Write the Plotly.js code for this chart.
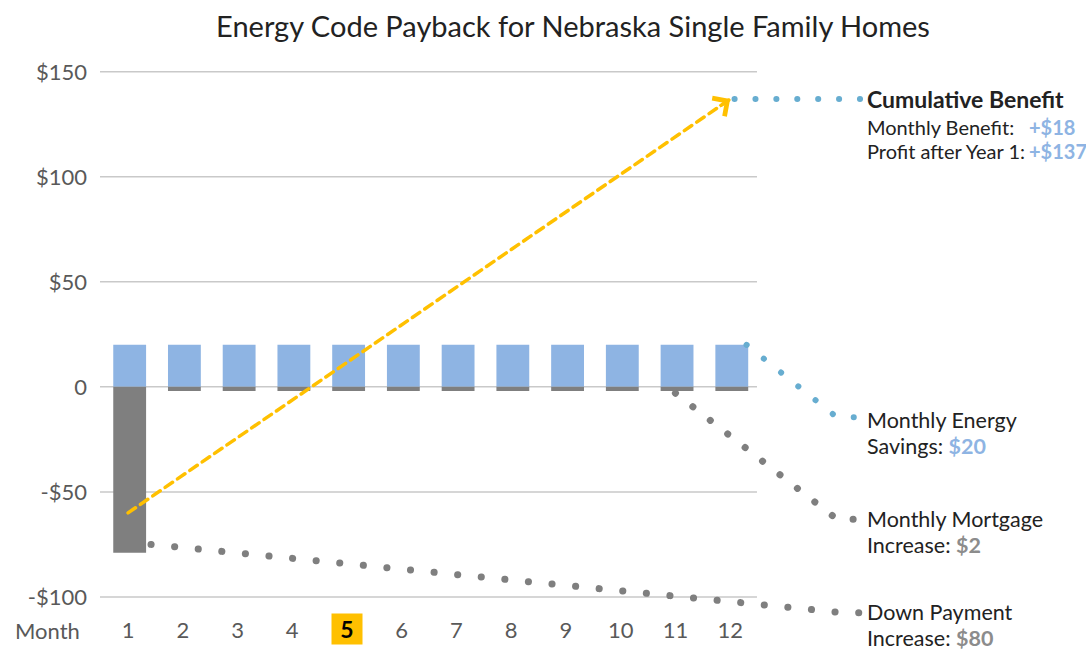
<!DOCTYPE html>
<html>
<head>
<meta charset="utf-8">
<script src="https://cdn.plot.ly/plotly-3.0.1.min.js"></script>
<style>
  html, body { margin: 0; padding: 0; background: #fff; }
  #chart { width: 1086px; height: 651px; }
  .scatterlayer .js-line { stroke-linecap: round; }
</style>
</head>
<body>
<div id="chart"></div>
<script>
// ---- data ----
var months = [1, 2, 3, 4, 5, 6, 7, 8, 9, 10, 11, 12];
var monthLabels = ['1', '2', '3', '4', '5', '6', '7', '8', '9', '10', '11', '12'];
var energySavings = [20, 20, 20, 20, 20, 20, 20, 20, 20, 20, 20, 20];
var costs = [-79, -2, -2, -2, -2, -2, -2, -2, -2, -2, -2, -2];
var cumulativeStart = -60;   // month 1
var cumulativeEnd = 137;     // month 12
var yTickVals = [-100, -50, 0, 50, 100, 150];
var yTickText = ['-$100', '-$50', '0', '$50', '$100', '$150'];
var highlightMonth = 5;

// leader (dotted) lines: label connectors
var benefitLeaderX = [12.08, 14.4];
var benefitLeaderY = [137, 137];
var energyLeaderX = [12.3, 13.95, 14.3];
var energyLeaderY = [20, -14.5, -14.5];
var mortgageLeaderX = [11.0, 13.95, 14.3];
var mortgageLeaderY = [-3, -63, -63];
var downLeaderX = [1.42, 14.05, 14.4];
var downLeaderY = [-75, -107.5, -107.5];

// ---- style ----
var FONT = 'Lato, "Open Sans", sans-serif';
var BLUE = '#8EB4E3', GRAY = '#7F7F7F', DOTBLUE = '#67ADD0', YELLOW = '#FFC000';
var W = 1086, H = 651, M = {l: 100, r: 219, t: 55, b: 31};
var xRange = [0.488, 14.5];
var yRange = [-111, 158];
function py(p) { return (H - M.b - p) / (H - M.t - M.b); } // pixel y -> paper
function px(p) { return (p - M.l) / (W - M.l - M.r); }     // pixel x -> paper

var traces = [
  {type: 'bar', x: months, y: energySavings, marker: {color: BLUE}, width: 0.6, offset: -0.27, hoverinfo: 'none'},
  {type: 'bar', x: months, y: costs, marker: {color: GRAY}, width: 0.6, offset: -0.27, hoverinfo: 'none'},
  {type: 'scatter', mode: 'lines', x: [months[0], months[11]], y: [cumulativeStart, cumulativeEnd],
   line: {color: YELLOW, width: 3.5, dash: '9px,6px'}, hoverinfo: 'none'},
  {type: 'scatter', mode: 'lines', x: benefitLeaderX, y: benefitLeaderY,
   line: {color: DOTBLUE, width: 6, dash: '0.1px,20.8px'}, hoverinfo: 'none'},
  {type: 'scatter', mode: 'lines', x: energyLeaderX, y: energyLeaderY,
   line: {color: DOTBLUE, width: 6, dash: '0.1px,22px'}, hoverinfo: 'none'},
  {type: 'scatter', mode: 'lines', x: mortgageLeaderX, y: mortgageLeaderY,
   line: {color: GRAY, width: 7, dash: '0.1px,22px'}, hoverinfo: 'none'},
  {type: 'scatter', mode: 'lines', x: downLeaderX, y: downLeaderY,
   line: {color: GRAY, width: 7, dash: '0.1px,23.6px'}, hoverinfo: 'none'}
];

var shapes = yTickVals.map(function (v) {
  return {type: 'line', xref: 'x', yref: 'y', x0: xRange[0], x1: 12.49, y0: v, y1: v,
          line: {color: '#C9C9C9', width: 1.5}, layer: 'below'};
});

var tickText = monthLabels.map(function (t, i) { return months[i] === highlightMonth ? '' : t; });

var dx = months[11] - months[0], dy = cumulativeEnd - cumulativeStart;
var annotations = [
  // arrowhead of cumulative line
  {x: months[11], y: cumulativeEnd, xref: 'x', yref: 'y', axref: 'x', ayref: 'y',
   ax: months[11] - 0.02 * dx, ay: cumulativeEnd - 0.02 * dy, text: '', showarrow: true,
   arrowhead: 4, arrowsize: 1.4, arrowwidth: 3, arrowcolor: YELLOW},
  // highlighted month tick
  {x: highlightMonth, y: py(629), xref: 'x', yref: 'paper', yanchor: 'middle',
   text: '<b>' + monthLabels[4] + '</b>',
   showarrow: false, bgcolor: YELLOW, width: 30, height: 30, borderpad: 0,
   font: {family: FONT, size: 23, color: '#000'}},
  {x: px(14), y: py(630), xref: 'paper', yref: 'paper', xanchor: 'left', yanchor: 'middle',
   text: 'Month', showarrow: false, borderpad: 0,
   font: {family: FONT, size: 22, color: '#595959'}}
];

function label(ypx, text, size, xpx) {
  annotations.push({x: px(xpx || 866), y: py(ypx), xref: 'paper', yref: 'paper',
    xanchor: 'left', yanchor: 'middle', text: text, showarrow: false, borderpad: 0,
    font: {family: FONT, size: size, color: '#222'}});
}
function blue(t) { return '<b><span style="color:' + BLUE + '">' + t + '</span></b>'; }
function grey(t) { return '<b><span style="color:#8C8C8C">' + t + '</span></b>'; }
label(99, '<b>Cumulative Benefit</b>', 23);
label(127, 'Monthly Benefit:', 20);
label(127, blue('+$18'), 20, 1028);
label(151, 'Profit after Year 1:', 20);
label(151, blue('+$137'), 20, 1028);
label(420, 'Monthly Energy', 21.5);
label(446, 'Savings: ' + blue('$20'), 21.5);
label(519, 'Monthly Mortgage', 21.5);
label(545, 'Increase: ' + grey('$2'), 21.5);
label(612, 'Down Payment', 21.5);
label(638, 'Increase: ' + grey('$80'), 21.5);

var layout = {
  width: W, height: H, margin: M, showlegend: false,
  paper_bgcolor: '#fff', plot_bgcolor: '#fff',
  barmode: 'relative',
  title: {text: 'Energy Code Payback for Nebraska Single Family Homes', x: px(573), xanchor: 'center',
          xref: 'paper', y: 1 - 27 / H, yanchor: 'middle', font: {family: FONT, size: 29, color: '#222'}},
  xaxis: {range: xRange, tickvals: months, ticktext: tickText, showgrid: false, zeroline: false,
          showline: false, ticks: '', ticklabelstandoff: -5,
          tickfont: {family: FONT, size: 22, color: '#595959'}, fixedrange: true},
  yaxis: {range: yRange, tickvals: yTickVals, ticktext: yTickText, showgrid: false, zeroline: false,
          showline: false, ticks: '', ticklabelstandoff: 12,
          tickfont: {family: FONT, size: 22, color: '#595959'}, fixedrange: true},
  shapes: shapes,
  annotations: annotations,
  font: {family: FONT}
};

Plotly.newPlot('chart', traces, layout, {displayModeBar: false, staticPlot: true});
</script>
</body>
</html>
